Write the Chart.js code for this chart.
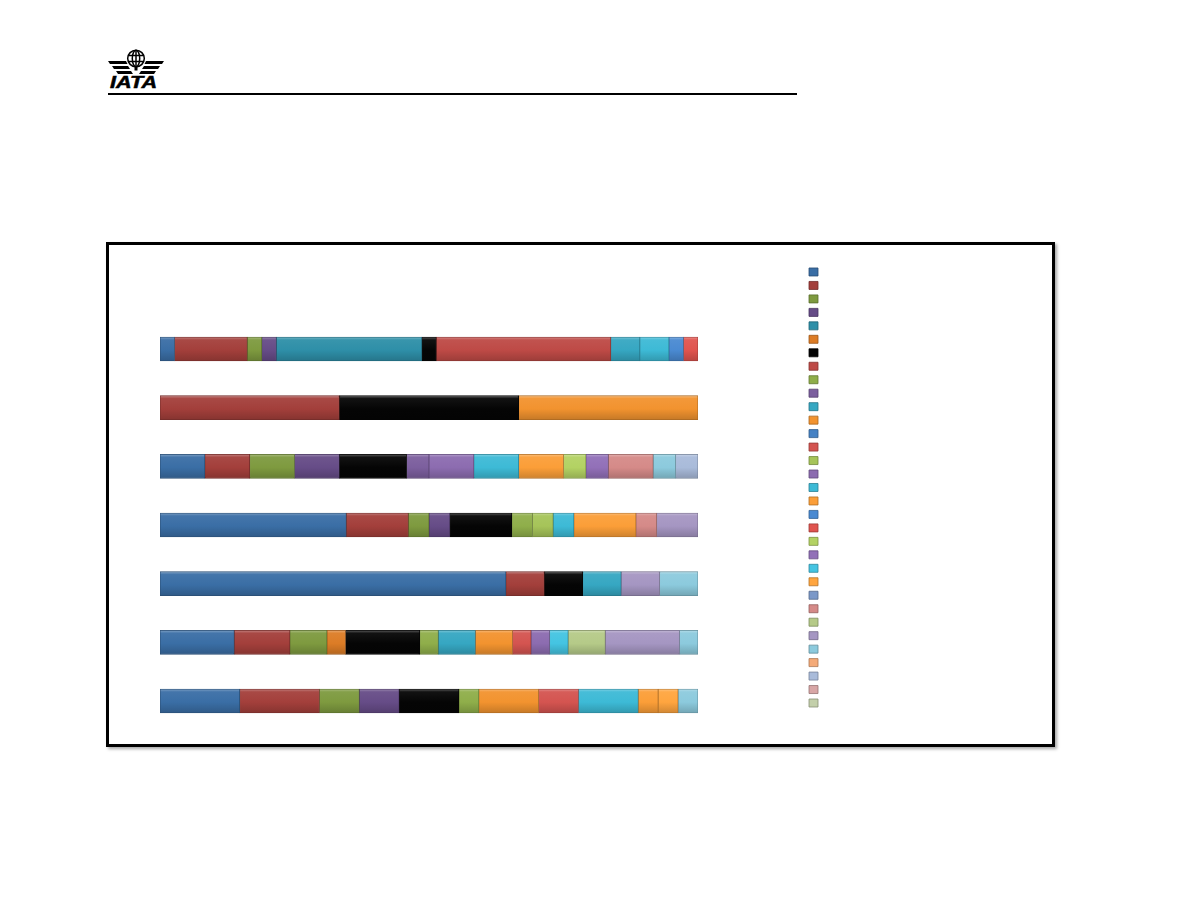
<!DOCTYPE html>
<html>
<head>
<meta charset="utf-8">
<script src="https://cdn.jsdelivr.net/npm/chart.js@4/dist/chart.umd.min.js"></script>
<style>
  html, body { margin: 0; padding: 0; background: #ffffff; }
  body { width: 1188px; height: 918px; position: relative; overflow: hidden; font-family: "Liberation Sans", Arial, sans-serif; }
  #logo { position: absolute; left: 106px; top: 48px; width: 62px; height: 42px; }
  #rule { position: absolute; left: 108px; top: 93px; width: 689px; height: 2px; background: #000; }
  #frame { position: absolute; left: 106px; top: 242px; width: 943px; height: 499px; border: 3px solid #000; box-shadow: 2px 2px 3px rgba(0,0,0,0.35); background: #fff; }
  #wrap { position: absolute; left: 0; top: 0; width: 943px; height: 499px; }
</style>
</head>
<body>
<svg id="logo" viewBox="0 0 62 42" xmlns="http://www.w3.org/2000/svg">
  <g fill="none" stroke="#000" stroke-width="1.5">
    <circle cx="30" cy="10.5" r="8.3" fill="#fff"/>
    <ellipse cx="30" cy="10.5" rx="3.7" ry="8.3"/>
    <line x1="30" y1="2.2" x2="30" y2="18.8"/>
    <line x1="22" y1="7.5" x2="38" y2="7.5"/>
    <line x1="22" y1="13.5" x2="38" y2="13.5"/>
  </g>
  <rect x="28.5" y="18.5" width="3" height="4" fill="#000"/>
  <g fill="#000">
    <path d="M2 13 L20 13 L21.5 16 L4 16 Z"/>
    <path d="M6 18 L22 18 L24 21 L8 21 Z"/>
    <path d="M10 23 L25 23 L27 26 L12 26 Z"/>
    <path d="M58 13 L40 13 L38.5 16 L56 16 Z"/>
    <path d="M54 18 L38 18 L36 21 L52 21 Z"/>
    <path d="M50 23 L35 23 L33 26 L48 26 Z"/>
  </g>
  <text x="4" y="39.5" textLength="47" lengthAdjust="spacingAndGlyphs" font-family="Liberation Sans, Arial, sans-serif" font-weight="bold" font-style="italic" font-size="16" fill="#000" stroke="#000" stroke-width="0.5">IATA</text>
</svg>
<div id="rule"></div>
<div id="frame"><div id="wrap"><canvas id="c" width="943" height="499"></canvas></div></div>
<script>
// ---- data (counts per segment; index = series number - 1) ----
const categories = ['1', '2', '3', '4', '5', '6', '7'];
const seriesNames = ['', '', '', '', '', '', '', '', '', '', '', '', '', '', '', '', '', '', '', '', '', '', '', '', '', '', '', '', '', '', '', '', ''];
//              s1 2  3  4  5  6  7  8  9 10 11 12 13 14 15 16 17 18 19 20 21 22 23 24 25 26 27 28 29 30 31 32 33
const row1 = [1, 5, 1, 1, 10, 0, 1, 12, 0, 0, 2, 0, 0, 0, 0, 0, 2, 0, 1, 1, 0, 0, 0, 0, 0, 0, 0, 0, 0, 0, 0, 0, 0];
const row2 = [0, 1, 0, 0, 0, 0, 1, 0, 0, 0, 0, 1, 0, 0, 0, 0, 0, 0, 0, 0, 0, 0, 0, 0, 0, 0, 0, 0, 0, 0, 0, 0, 0];
const row3 = [2, 2, 2, 2, 0, 0, 3, 0, 0, 1, 0, 0, 0, 0, 0, 2, 2, 2, 0, 0, 1, 1, 0, 0, 0, 2, 0, 0, 1, 0, 1, 0, 0];
const row4 = [9, 3, 1, 1, 0, 0, 3, 0, 1, 0, 0, 0, 0, 0, 1, 0, 1, 3, 0, 0, 0, 0, 0, 0, 0, 1, 0, 2, 0, 0, 0, 0, 0];
const row5 = [9, 1, 0, 0, 0, 0, 1, 0, 0, 0, 1, 0, 0, 0, 0, 0, 0, 0, 0, 0, 0, 0, 0, 0, 0, 0, 0, 1, 1, 0, 0, 0, 0];
const row6 = [4, 3, 2, 0, 0, 1, 4, 0, 1, 0, 2, 2, 0, 1, 0, 1, 0, 0, 0, 0, 0, 0, 1, 0, 0, 0, 2, 4, 1, 0, 0, 0, 0];
const row7 = [4, 4, 2, 2, 0, 0, 3, 0, 1, 0, 0, 3, 0, 2, 0, 0, 3, 1, 0, 0, 0, 0, 0, 1, 0, 0, 0, 0, 1, 0, 0, 0, 0];
const rows = [row1, row2, row3, row4, row5, row6, row7];

const seriesColors = [
  '#3A6EA5', '#A33F3B', '#7E9A3F', '#664C87', '#2E8FA8', '#DC7C26', '#050505', '#BE4A46',
  '#8FAE4A', '#7C5F9E', '#36A7C2', '#F2932F', '#4682C4', '#D45450', '#A6C459', '#8C6CB0',
  '#3DBAD6', '#FB9E38', '#4A8AD2', '#E0544F', '#B3D263', '#9270B8', '#44C4E2', '#FFA53F',
  '#7B98C8', '#D58A88', '#B5CA88', '#A596C2', '#8CCADD', '#F4AA78', '#A9BBDA', '#D8A6A6', '#C3CFAA'
];

function shade(hex, f) {
  const n = parseInt(hex.slice(1), 16);
  let r = (n >> 16) & 255, g = (n >> 8) & 255, b = n & 255;
  if (f >= 0) { r += (255 - r) * f; g += (255 - g) * f; b += (255 - b) * f; }
  else { r *= (1 + f); g *= (1 + f); b *= (1 + f); }
  return 'rgb(' + Math.round(r) + ',' + Math.round(g) + ',' + Math.round(b) + ')';
}

const totals = rows.map(r => r.reduce((a, b) => a + b, 0));

const datasets = seriesNames.map((name, s) => {
  const base = seriesColors[s];
  return {
    label: name,
    data: rows.map((r, i) => r[s] ? r[s] / totals[i] * 100 : null),
    backgroundColor: function (ctx) {
      if (ctx.type !== 'data') return base;
      const chart = ctx.chart;
      if (!chart.chartArea || !chart.scales.y) return base;
      const yc = chart.scales.y.getPixelForValue(ctx.dataIndex);
      if (!isFinite(yc)) return base;
      const g = chart.ctx.createLinearGradient(0, yc - 12, 0, yc + 12);
      g.addColorStop(0, shade(base, 0.35));
      g.addColorStop(0.12, shade(base, 0.05));
      g.addColorStop(0.55, base);
      g.addColorStop(1, shade(base, -0.18));
      return g;
    },
    borderColor: shade(base, -0.3),
    borderWidth: 0.8,
    borderSkipped: false,
    barThickness: 24
  };
});

const LEG_PAD = 5.47;

new Chart(document.getElementById('c'), {
  type: 'bar',
  data: { labels: categories, datasets: datasets },
  options: {
    indexAxis: 'y',
    responsive: false,
    animation: false,
    maintainAspectRatio: false,
    layout: { padding: { left: 51, right: 220, top: 17.5, bottom: 13.67 } },
    scales: {
      x: {
        stacked: true, min: 0, max: 100, position: 'top', display: true,
        grid: { display: false }, border: { display: false }, ticks: { display: false },
        afterFit: function (s) { s.height = 57.17; }
      },
      y: { stacked: true, display: false },
      yR: {
        type: 'linear', axis: 'y', position: 'right', display: true,
        grid: { display: false }, border: { display: false }, ticks: { display: false },
        afterFit: function (s) { s.width = 105.53; }
      }
    },
    plugins: {
      tooltip: { enabled: false },
      legend: {
        display: true,
        position: 'right',
        align: 'start',
        labels: {
          boxWidth: 9, boxHeight: 8, padding: LEG_PAD,
          font: { size: 8, family: 'Liberation Sans' },
          color: '#000',
          generateLabels: function () {
            return seriesNames.map((n, i) => ({
              text: n, fillStyle: seriesColors[i], strokeStyle: shade(seriesColors[i], -0.3),
              lineWidth: 0.8, hidden: false, datasetIndex: i
            }));
          }
        }
      }
    }
  }
});
</script>
</body>
</html>
